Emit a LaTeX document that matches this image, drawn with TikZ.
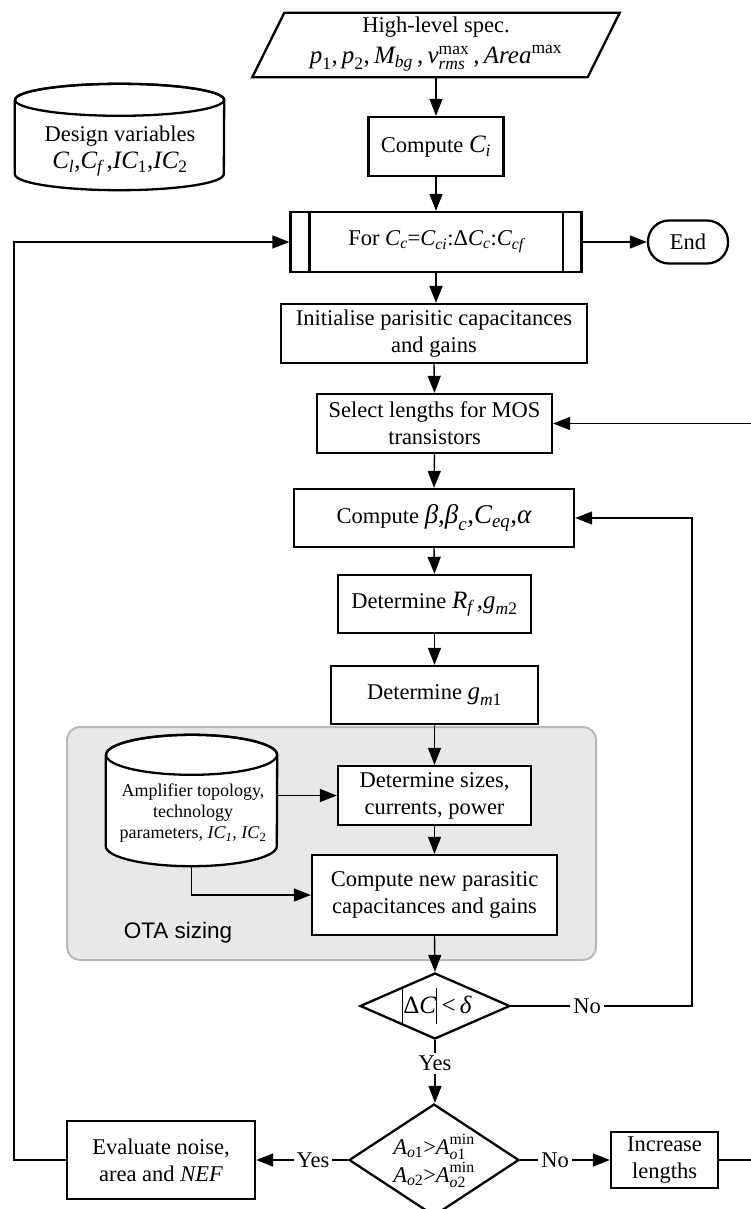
\documentclass[tikz,border=0pt]{standalone}
\usepackage{amsmath}
\usepackage{fontspec}
\setmainfont{Liberation Serif}
\setsansfont{Liberation Sans}
\usetikzlibrary{arrows.meta,shapes.geometric,calc}
\definecolor{gfill}{HTML}{E8E8E8}
\definecolor{gline}{HTML}{B8B8B8}
\newcommand{\itv}[1]{\textit{#1}}
\newcommand{\mfs}{\fontsize{22.5}{27}\selectfont}
\newcommand{\sfs}{\fontsize{18}{21}\selectfont}
\newcommand{\vbar}{\rule[-11pt]{1.1pt}{36pt}}
\begin{document}
\begin{tikzpicture}[x=1pt,y=-1pt,
  font=\mfs,
  proc/.style={draw,line width=2.3pt,fill=white,inner sep=0pt,align=center},
  ghost/.style={inner sep=0pt,align=center},
  conn/.style={line width=1.4pt,-{Triangle[length=17pt,width=13pt]}},
  shapeline/.style={line width=2.3pt},
  lbl/.style={fill=white,inner sep=3pt,font=\mfs},
  dia/.style={diamond,draw,line width=2.3pt,fill=white,inner sep=0pt}]
\useasboundingbox (0,0) rectangle (750,1209);

% OTA sizing background
\node[draw=gline,fill=gfill,line width=2pt,rounded corners=13pt,minimum width=529pt,minimum height=233pt,inner sep=0pt] (ota) at (331.5,843.5) {};
\node[font=\sffamily\mfs] (otalbl) at (178,933) {OTA sizing};

% High-level spec (parallelogram)
\node[ghost,minimum width=335pt,minimum height=64pt] (spec) at (436,45) {};
\draw[shapeline,fill=white] ($(spec.north west)+(16,0)$) -- ($(spec.north east)+(16,0)$) -- ($(spec.south east)+(-16,0)$) -- ($(spec.south west)+(-16,0)$) -- cycle;
\node[ghost] (spectxt) at (436,44) {High-level spec.\\[4pt]{\fontsize{25}{27}\selectfont$\itv{p}_{\text{1}}\text{,\,}\itv{p}_{\text{2}}\text{,\,}\itv{M}_{\itv{bg}}\text{\,,\,}\itv{v}^{\text{max}}_{\itv{rms}}\text{\,,\,}\itv{Area}^{\text{max}}$}};

% Design variables cylinder
\node[ghost,minimum width=209pt,minimum height=106pt] (dv) at (119.5,137) {};
\draw[shapeline,fill=white] ($(dv.north west)+(0,16)$) -- ($(dv.south west)+(0,-16)$) arc[start angle=180,end angle=360,x radius=104.5pt,y radius=16pt] -- ($(dv.north east)+(0,16)$) arc[start angle=0,end angle=180,x radius=104.5pt,y radius=16pt];
\draw[shapeline] ($(dv.north)+(0,16)$) ellipse[x radius=104.5pt,y radius=16pt];
\node[ghost] (dvtxt) at (120,151) {Design variables\\{\fontsize{25}{27}\selectfont$\itv{C}_{\itv{l}}\text{,}\itv{C}_{\itv{f}}\text{\,,}\itv{IC}_{\text{1}}\text{,}\itv{IC}_{\text{2}}$}};

% main column
\node[proc,minimum width=135pt,minimum height=59pt] (ci) at (436,146.5) {Compute {\fontsize{25}{27}\selectfont$\itv{C}_{\itv{i}}$}};
\node[proc,minimum width=291pt,minimum height=60pt] (for) at (436,242) {For $\itv{C}_{\itv{c}}\text{=}\itv{C}_{\itv{ci}}\text{:Δ}\itv{C}_{\itv{c}}\text{:}\itv{C}_{\itv{cf}}$};
\draw[shapeline] ($(for.north west)+(20,0)$) -- ($(for.south west)+(20,0)$);
\draw[shapeline] ($(for.north east)+(-20,0)$) -- ($(for.south east)+(-20,0)$);
\node[proc,rounded corners=21pt,minimum width=80pt,minimum height=43pt] (end) at (688,242) {End};
\node[proc,minimum width=306pt,minimum height=59pt] (init) at (434,333.5) {Initialise parisitic capacitances\\and gains};
\node[proc,minimum width=235pt,minimum height=59pt] (sel) at (434.5,423.5) {Select lengths for MOS\\transistors};
\node[proc,minimum width=280pt,minimum height=58pt] (comp) at (434,518) {Compute {\fontsize{27}{27}\selectfont$\itv{β}\text{,}\itv{β}_{\itv{c}}\text{,}\itv{C}_{\itv{eq}}\text{,}\itv{α}$}};
\node[proc,minimum width=193pt,minimum height=58pt] (rf) at (434.5,604) {Determine {\fontsize{25}{27}\selectfont$\itv{R}_{\itv{f}}\text{\,,}\itv{g}_{\itv{m}\text{2}}$}};
\node[proc,minimum width=207pt,minimum height=58pt] (gm1) at (434.5,695) {Determine {\fontsize{25}{27}\selectfont$\itv{g}_{\itv{m}\text{1}}$}};
\node[proc,minimum width=193pt,minimum height=59pt] (sizes) at (434.5,795.5) {Determine sizes,\\currents, power};
\node[proc,minimum width=245pt,minimum height=80pt] (new) at (434.5,895) {Compute new parasitic\\capacitances and gains};

% Amplifier cylinder
\node[ghost,minimum width=171pt,minimum height=131pt] (amp) at (191.5,800.5) {};
\draw[shapeline,fill=white] ($(amp.north west)+(0,20)$) -- ($(amp.south west)+(0,-20)$) arc[start angle=180,end angle=360,x radius=85.5pt,y radius=20pt] -- ($(amp.north east)+(0,20)$) arc[start angle=0,end angle=180,x radius=85.5pt,y radius=20pt];
\draw[shapeline] ($(amp.north)+(0,20)$) ellipse[x radius=85.5pt,y radius=20pt];
\node[ghost,font=\sfs] (amptxt) at (193,813) {Amplifier topology,\\technology\\parameters, \textit{IC\textsubscript{1}}, \textit{IC}\textsubscript{2}};

% decisions
\node[dia,minimum width=150pt,minimum height=66pt] (d1) at (435,1006) {};
\node[ghost] (d1txt) at (437,1006) {\vbar{\fontsize{25}{27}\selectfont Δ\textit{C}}\vbar{\fontsize{25}{27}\selectfont\,<\,\textit{δ}}};
\node[dia,minimum width=170pt,minimum height=112pt] (d2) at (434,1160) {};
\node[ghost] (d2txt) at (434,1161) {$\itv{A}_{\itv{o}\text{1}}\text{>}\itv{A}^{\text{min}}_{\itv{o}\text{1}}$\\[1pt]$\itv{A}_{\itv{o}\text{2}}\text{>}\itv{A}^{\text{min}}_{\itv{o}\text{2}}$};

\node[proc,minimum width=188pt,minimum height=78pt] (eval) at (161,1160) {Evaluate noise,\\area and \textit{NEF}};
\node[proc,minimum width=107pt,minimum height=56pt] (inc) at (664.5,1160) {Increase\\lengths};

% connectors
\coordinate (r1) at (692,1006);
\coordinate (r2) at (790,1160);
\coordinate (l1) at (14,1160);
\draw[conn] (spec.south) -- (ci.north);
\draw[conn] (ci.south) -- (ci.south |- for.north);
\draw[conn] (for.east) -- (end.west);
\draw[conn] (for.south) -- (for.south |- init.north);
\draw[conn] (init.south) -- (sel.north);
\draw[conn] (sel.south) -- (comp.north);
\draw[conn] (comp.south) -- (rf.north);
\draw[conn] (rf.south) -- (gm1.north);
\draw[conn] (gm1.south) -- (sizes.north);
\draw[conn] (sizes.south) -- (new.north);
\draw[conn] (amp.east |- sizes.west) -- (sizes.west);
\draw[conn] (amp.south) |- (new.west);
\draw[conn] (new.south) -- (d1.north);
\draw[conn] (d1.east) -- node[lbl,pos=0.42]{No} (r1) |- (comp.east);
\draw[conn] (d1.south) -- node[lbl,pos=0.37]{Yes} (d1.south |- d2.north);
\draw[conn] (d2.west) -- node[lbl,pos=0.38]{Yes} (eval.east);
\draw[conn] (d2.east) -- node[lbl,pos=0.39]{No} (inc.west);
\draw[conn] (inc.east) -- (r2) |- (sel.east);
\draw[conn] (eval.west) -- (l1) |- (for.west);
\end{tikzpicture}
\end{document}
